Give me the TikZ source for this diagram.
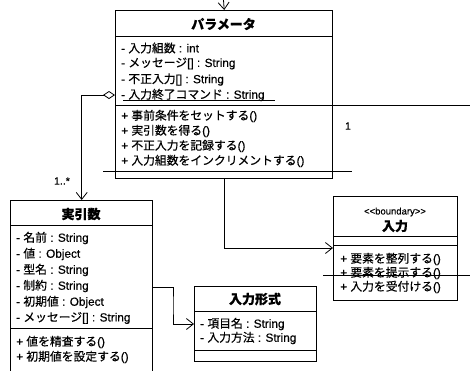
\documentclass[tikz,border=0pt]{standalone}
\usepackage{fontspec}
\setmainfont{Liberation Sans}[FakeBold=0.4]
\newfontfamily\jp{Noto Sans CJK JP}[FakeBold=0.4]
\usetikzlibrary{arrows.meta}
\begin{document}
\begin{tikzpicture}[x=1pt,y=-1pt,
  cls/.style={draw, line width=1.4pt, anchor=north west, inner sep=0pt, fill=white},
  sepline/.style={line width=0.9pt},
  stray/.style={line width=0.6pt},
  attr/.style={anchor=west, inner sep=0pt, font=\fontsize{11.8}{13}\selectfont},
  ttl/.style={inner sep=0pt, font=\fontsize{13}{15}\selectfont\jp\bfseries},
  lbl/.style={inner sep=0pt, font=\fontsize{10.5}{12}\selectfont},
  arr/.style={line width=0.8pt, -{Straight Barb[length=7pt,width=11pt,line width=0.8pt]}},
  agg/.style={line width=0.8pt, {Diamond[open,length=12pt,width=8pt,line width=0.8pt]}-{Straight Barb[length=7pt,width=11pt,line width=0.8pt]}}
]
\clip (0,0) rectangle (470,370);
\fill[white] (0,0) rectangle (470,370);

% ---------- パラメータ ----------
\node[cls, minimum width=217pt, minimum height=168pt] (param) at (115,10) {};
\node[ttl] (pt) at (223.5,24) {パラメータ};
\draw[sepline] (param.west |- 0,36) -- (param.east |- 0,36);
\node[attr] (pa1) at (121,48) {- {\jp 入力組数} : int};
\node[attr] (pa2) at (121,63.5) {- {\jp メッセージ}[] : String};
\node[attr] (pa3) at (121,79.5) {- {\jp 不正入力}[] : String};
\node[attr] (pa4) at (121,95) {- {\jp 入力終了コマンド} : String};
\draw[stray] (123,100.5) -- (275,100.5);
\draw[sepline] (param.west |- 0,105) -- (param.east |- 0,105);
\draw[stray] (param.east |- 0,105) -- (470,105);
\node[attr] (pm1) at (121,116) {+ {\jp 事前条件をセットする}()};
\node[attr] (pm2) at (121,131) {+ {\jp 実引数を得る}()};
\node[attr] (pm3) at (121,146) {+ {\jp 不正入力を記録する}()};
\node[attr] (pm4) at (121,161) {+ {\jp 入力組数をインクリメントする}()};
\draw[sepline] (103,171) -- (352,171);

% ---------- 実引数 ----------
\node[cls, minimum width=142pt, minimum height=180pt] (jitsu) at (10,200) {};
\node[ttl] (jt) at (81,214) {実引数};
\draw[sepline] (jitsu.west |- 0,225) -- (jitsu.east |- 0,225);
\node[attr] (ja1) at (16,238) {- {\jp 名前} : String};
\node[attr] (ja2) at (16,254) {- {\jp 値} : Object};
\node[attr] (ja3) at (16,270) {- {\jp 型名} : String};
\node[attr] (ja4) at (16,286) {- {\jp 制約} : String};
\node[attr] (ja5) at (16,302) {- {\jp 初期値} : Object};
\node[attr] (ja6) at (16,318) {- {\jp メッセージ}[] : String};
\draw[sepline] (jitsu.west |- 0,328) -- (jitsu.east |- 0,328);
\node[attr] (jm1) at (16,342) {+ {\jp 値を精査する}()};
\node[attr] (jm2) at (16,357) {+ {\jp 初期値を設定する}()};

% ---------- 入力形式 ----------
\node[cls, minimum width=122pt, minimum height=75pt] (keishiki) at (194,286) {};
\node[ttl] (kt) at (255,299) {入力形式};
\draw[sepline] (keishiki.west |- 0,311) -- (keishiki.east |- 0,311);
\node[attr] (ka1) at (200,324) {- {\jp 項目名} : String};
\node[attr] (ka2) at (200,338) {- {\jp 入力方法} : String};
\draw[sepline] (keishiki.west |- 0,350) -- (keishiki.east |- 0,350);

% ---------- 入力 ----------
\node[cls, minimum width=124pt, minimum height=104pt] (nyu) at (333,196) {};
\node[inner sep=0pt, font=\fontsize{9.5}{11}\selectfont] (nst) at (395,212) {{<}{<}boundary{>}{>}};
\node[ttl] (nt) at (395,226) {入力};
\draw[sepline] (nyu.west |- 0,236) -- (nyu.east |- 0,236);
\draw[sepline] (nyu.west |- 0,245) -- (nyu.east |- 0,245);
\node[attr] (nm1) at (340,259) {+ {\jp 要素を整列する}()};
\node[attr] (nm2) at (340,273) {+ {\jp 要素を提示する}()};
\node[attr] (nm3) at (340,287) {+ {\jp 入力を受付ける}()};
\draw[stray] (323,275) -- (470,275);

% ---------- connectors ----------
\coordinate (topsrc) at (223.5,0);
\draw[arr] (topsrc) -- (param.north);
\draw[agg] (param.west |- 0,95) -| (jitsu.north);
\node[lbl] (mult1) at (62,181) {1..*};
\node[lbl] (mult2) at (348,126) {1};
\draw[arr] (param.south) |- (nyu.west |- 0,248);
\coordinate (bend) at (173,305);
\draw[arr] (jitsu.east |- 0,287) -| (bend) |- (keishiki.west |- 0,324);
\end{tikzpicture}
\end{document}
